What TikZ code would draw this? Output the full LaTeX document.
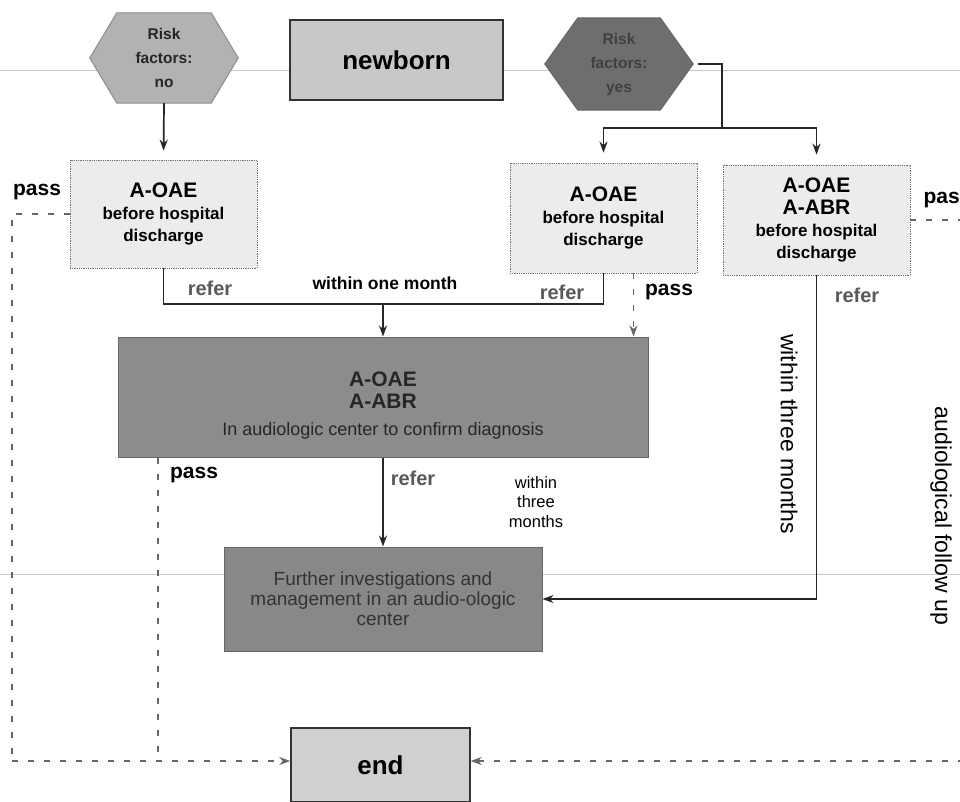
\documentclass[tikz,border=0pt]{standalone}
\usepackage{fontspec}
\setmainfont{Liberation Sans}
\usetikzlibrary{arrows.meta,backgrounds,calc}
\definecolor{hexlight}{HTML}{B2B2B2}
\definecolor{hexdark}{HTML}{6E6E6E}
\definecolor{boxlight}{HTML}{ECECEC}
\definecolor{boxmid}{HTML}{8C8C8C}
\definecolor{boxtop}{HTML}{C8C8C8}
\definecolor{scanline}{HTML}{C8C8C8}
\begin{document}
\begin{tikzpicture}[x=1pt,y=-1pt,
  line/.style={line width=1.7pt, black!85},
  arr/.style={line, -{Stealth[length=11pt,width=8pt]}},
  passline/.style={line width=1.5pt, black!60, dash pattern=on 6pt off 10pt},
  passarr/.style={passline, -{Stealth[length=11pt,width=8pt]}},
  screen/.style={draw=black!55, densely dotted, line width=0.8pt, fill=boxlight,
    minimum width=187pt, minimum height=108pt, align=center, inner sep=0pt,
    font=\fontsize{17}{22}\selectfont\bfseries},
  darkbox/.style={draw=black!60, line width=1pt, fill=boxmid, align=center, inner sep=0pt},
  topbox/.style={draw=black!80, line width=1.5pt, fill=boxtop, inner sep=0pt,
    font=\fontsize{26}{30}\selectfont\bfseries},
  hextext/.style={minimum width=148pt, minimum height=90pt, inner sep=0pt, align=center,
    font=\fontsize{15.5}{24}\selectfont\bfseries},
  lbl/.style={font=\fontsize{21}{24}\selectfont\bfseries, inner sep=0pt},
  rlbl/.style={font=\fontsize{20}{24}\selectfont\bfseries, text=black!65, inner sep=0pt},
  vlbl/.style={font=\fontsize{23}{26}\selectfont, rotate=-90, inner sep=0pt}
]
\useasboundingbox (0,0) rectangle (960,802);
\clip (0,0) rectangle (960,802);

% top row
\node[hextext, text=black!85] (hexno) at (164,58) {Risk\\factors:\\no};
\node[topbox, minimum width=213pt, minimum height=80pt] (newborn) at (396.5,60) {newborn};
\node[hextext, minimum height=92pt, text=black!75] (hexyes) at (619,64) {Risk\\factors:\\yes};
\begin{scope}[on background layer]
  \fill[white] (0,0) rectangle (960,802);
  % faint scan lines
  \draw[scanline, line width=0.8pt] (0,70) -- (960,70);
  \draw[scanline, line width=0.8pt] (0,574) -- (960,574);
  \draw[fill=hexlight, draw=black!45, line width=1pt]
    ([xshift=27pt]hexno.north west) -- ([xshift=-27pt]hexno.north east) -- (hexno.east)
    -- ([xshift=-27pt]hexno.south east) -- ([xshift=27pt]hexno.south west) -- (hexno.west) -- cycle;
  \draw[fill=hexdark, draw=black!60, line width=1pt]
    ([xshift=33pt]hexyes.north west) -- ([xshift=-33pt]hexyes.north east) -- (hexyes.east)
    -- ([xshift=-33pt]hexyes.south east) -- ([xshift=33pt]hexyes.south west) -- (hexyes.west) -- cycle;
\end{scope}

% screening boxes
\node[screen] (lbox) at (163.5,214) {{\fontsize{21}{25}\selectfont A-OAE}\\before hospital\\discharge};
\node[screen, minimum height=110pt] (mbox) at (603.5,218) {{\fontsize{21}{25}\selectfont A-OAE}\\before hospital\\discharge};
\node[screen, minimum height=110pt] (rbox) at (816.5,220) {{\fontsize{21}{26}\selectfont A-OAE}\\{\fontsize{21}{25}\selectfont A-ABR}\\before hospital\\discharge};

% confirm box
\node[darkbox, minimum width=530pt, minimum height=120pt, text=black!85,
  font=\fontsize{21}{22}\selectfont\bfseries] (conf) at (383,397)
  {\rule{0pt}{31pt}A-OAE\\A-ABR\\[5pt]{\fontsize{18}{20}\selectfont\mdseries In audiologic center to confirm diagnosis}};

% further box
\node[darkbox, fill=boxmid!97!black, minimum width=318pt, minimum height=104pt, text=black!80,
  font=\fontsize{19}{20}\selectfont] (further) at (383,599)
  {Further investigations and\\management in an audio-ologic\\center};

% end box
\node[topbox, minimum width=179pt, minimum height=74pt, fill=boxtop!85!white] (end) at (380.5,765) {end};

% connectors
\draw[arr, shorten >=9pt] (hexno.south) -- (lbox.north);
\coordinate (j) at (722,128);
\draw[line] ([xshift=5pt]hexyes.east) -| (j);
\draw[arr, shorten >=10pt] (j) -| (mbox.north);
\draw[arr, shorten >=10pt] (j) -| (rbox.north);

\coordinate (m1) at (383,304);
\draw[line] (lbox.south) |- (m1);
\draw[line] (mbox.south) |- (m1);
\draw[arr] (m1) -- (conf.north);

\coordinate (pm) at ($(mbox.south)+(30,0)$);
\draw[passarr] (pm) -- (pm |- conf.north);

\draw[arr] (rbox.south) |- (further.east);
\draw[arr] (conf.south) -- (further.north);

\coordinate (c1) at (12,761);
\coordinate (c2) at (158,761);
\coordinate (c3) at (980,761);
\draw[passline] (lbox.west) -| (c1);
\draw[passarr] (c1) -- ([yshift=4pt]end.west);
\draw[passline] (c2 |- conf.south) -- (c2);
\draw[passline] (rbox.east) -| (c3);
\draw[passarr] (c3) -- ([yshift=4pt]end.east);

% labels
\node[lbl] (pass1) at (37,192) {pass};
\node[lbl] (pass2) at (947.5,200) {pass};
\node[rlbl] (refer1) at (210,288) {refer};
\node[font=\fontsize{17.5}{20}\selectfont\bfseries, inner sep=0pt] (month1) at (385,283) {within one month};
\node[rlbl] (refer2) at (562,292) {refer};
\node[lbl] (pass3) at (669,292) {pass};
\node[rlbl] (refer3) at (857,295) {refer};
\node[vlbl] (three1) at (789,434) {within three months};
\node[vlbl] (follow) at (941,516) {audiological follow up};
\node[lbl] (pass4) at (194,475) {pass};
\node[rlbl] (refer4) at (413,478) {refer};
\node[font=\fontsize{16.5}{19.5}\selectfont, align=center, inner sep=0pt] (three2) at (536,502) {within\\three\\months};
\end{tikzpicture}
\end{document}
